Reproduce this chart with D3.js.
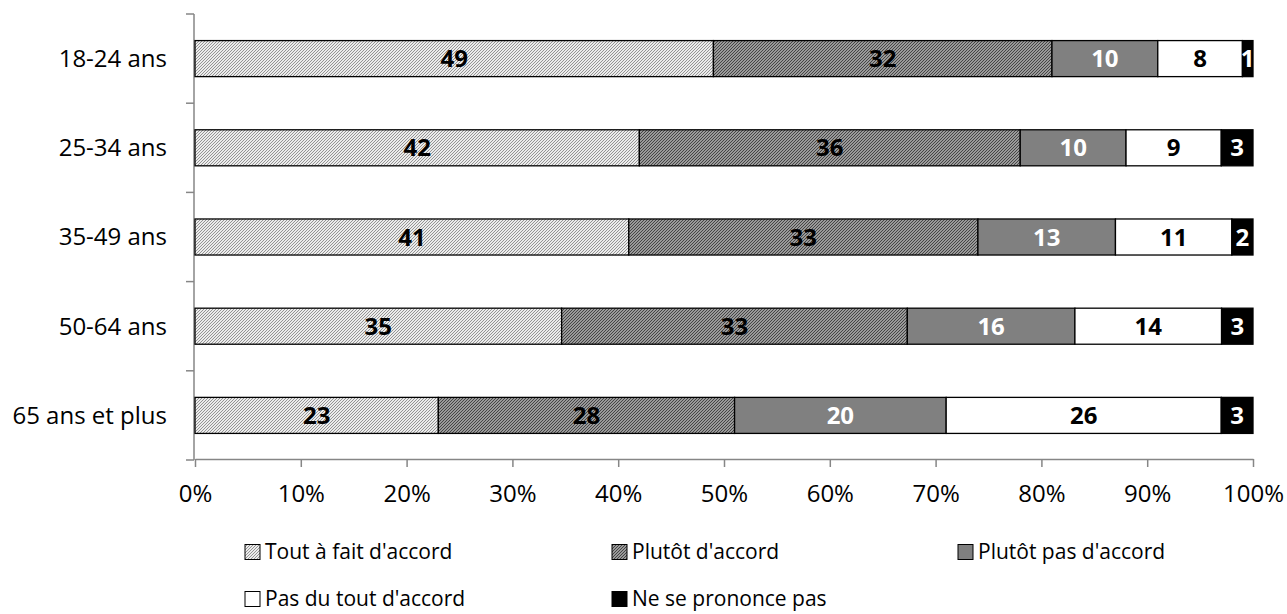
<!DOCTYPE html>
<html><head><meta charset="utf-8">
<script src="https://cdn.jsdelivr.net/npm/d3@7"></script>
<style>body{margin:0;background:#fff}svg{display:block}text{font-family:"Open Sans",sans-serif}</style>
</head><body>
<svg id="c" width="1287" height="614"></svg>
<script>
const categories = ["18-24 ans","25-34 ans","35-49 ans","50-64 ans","65 ans et plus"];
const seriesNames = ["Tout à fait d'accord","Plutôt d'accord","Plutôt pas d'accord","Pas du tout d'accord","Ne se prononce pas"];
const toutAFait   = [49,42,41,35,23];
const plutot      = [32,36,33,33,28];
const plutotPas   = [10,10,13,16,20];
const pasDuTout   = [8,9,11,14,26];
const nsp         = [1,3,2,3,3];
const xTicks = [0,0.1,0.2,0.3,0.4,0.5,0.6,0.7,0.8,0.9,1];

const seriesValues = [toutAFait, plutot, plutotPas, pasDuTout, nsp];
const fills = ["url(#p1)","url(#p2)","#808080","#ffffff","#000000"];
const labelColors = ["#000","#000","#fff","#000","#fff"];

const svg = d3.select("#c");
const defs = svg.append("defs");
const p1 = defs.append("pattern").attr("id","p1").attr("patternUnits","userSpaceOnUse").attr("width",3).attr("height",3);
p1.append("rect").attr("width",3).attr("height",3).attr("fill","#ececec");
p1.append("path").attr("d","M-1,1 l2,-2 M0,3 l3,-3 M2,4 l2,-2").attr("stroke","#8a8a8a").attr("stroke-width",0.9);
const p2 = defs.append("pattern").attr("id","p2").attr("patternUnits","userSpaceOnUse").attr("width",3).attr("height",3);
p2.append("rect").attr("width",3).attr("height",3).attr("fill","#9a9a9a");
p2.append("path").attr("d","M-1,1 l2,-2 M0,3 l3,-3 M2,4 l2,-2").attr("stroke","#454545").attr("stroke-width",1);

const x = d3.scaleLinear().domain([0,1]).range([195,1253]);
const y = d3.scaleBand().domain(categories).range([14,460]).paddingInner(0.596).paddingOuter(0.298);

const rows = categories.map((c,i)=>{
  const vals = seriesValues.map(s=>s[i]);
  const tot = d3.sum(vals);
  let acc = 0;
  return vals.map((v,k)=>{const s={cat:c,k,v,x0:acc/tot,x1:(acc+v)/tot};acc+=v;return s;});
});

const axisColor = "#868686";
const bottom = svg.append("g").attr("transform",`translate(0,${y.range()[1]-1})`)
  .call(d3.axisBottom(x).tickValues(xTicks).tickFormat(d3.format(".0%")).tickSize(8).tickSizeOuter(0));
bottom.select(".domain").attr("stroke",axisColor).attr("stroke-width",1.5);
bottom.selectAll(".tick line").attr("stroke",axisColor).attr("stroke-width",1.5);
bottom.selectAll(".tick text").attr("font-size",24).attr("fill","#000").attr("y",35).attr("dy","0.35em");

const left = svg.append("g");
left.append("line").attr("x1",x(0)-1).attr("x2",x(0)-1).attr("y1",y.range()[0]).attr("y2",y.range()[1])
  .attr("stroke",axisColor).attr("stroke-width",1.5);
const bounds = d3.range(categories.length+1).map(i=>y.range()[0]+i*y.step());
left.selectAll(".lt").data(bounds).join("line").attr("x1",x(0)-9).attr("x2",x(0)-1)
  .attr("y1",d=>d).attr("y2",d=>d).attr("stroke",axisColor).attr("stroke-width",1.5);
left.selectAll(".ll").data(categories).join("text").attr("x",167).attr("y",d=>y(d)+y.bandwidth()/2)
  .attr("dy","0.35em").attr("text-anchor","end").attr("font-size",24).text(d=>d);

const g = svg.append("g");
rows.forEach(r=>{
  g.selectAll(null).data(r).join("rect")
    .attr("x",d=>x(d.x0)).attr("width",d=>x(d.x1)-x(d.x0))
    .attr("y",d=>y(d.cat)).attr("height",y.bandwidth())
    .attr("fill",d=>fills[d.k]).attr("stroke","#000").attr("stroke-width",1.3);
  g.selectAll(null).data(r).join("text")
    .attr("x",d=>x((d.x0+d.x1)/2)).attr("y",d=>y(d.cat)+y.bandwidth()/2).attr("dy","0.36em")
    .attr("text-anchor","middle").attr("font-size",24).attr("font-weight","bold")
    .attr("fill",d=>labelColors[d.k]).text(d=>d.v);
});

const legendPos = [[245,552],[612,552],[958,552],[245,599],[612,599]];
const lg = svg.append("g");
seriesNames.forEach((n,k)=>{
  const [lx,ly] = legendPos[k];
  lg.append("rect").attr("x",lx).attr("y",ly-7.5).attr("width",15).attr("height",15)
    .attr("fill",fills[k]).attr("stroke","#000").attr("stroke-width",1);
  lg.append("text").attr("x",lx+20).attr("y",ly).attr("dy","0.35em").attr("font-size",21).text(n);
});
</script>
</body></html>
